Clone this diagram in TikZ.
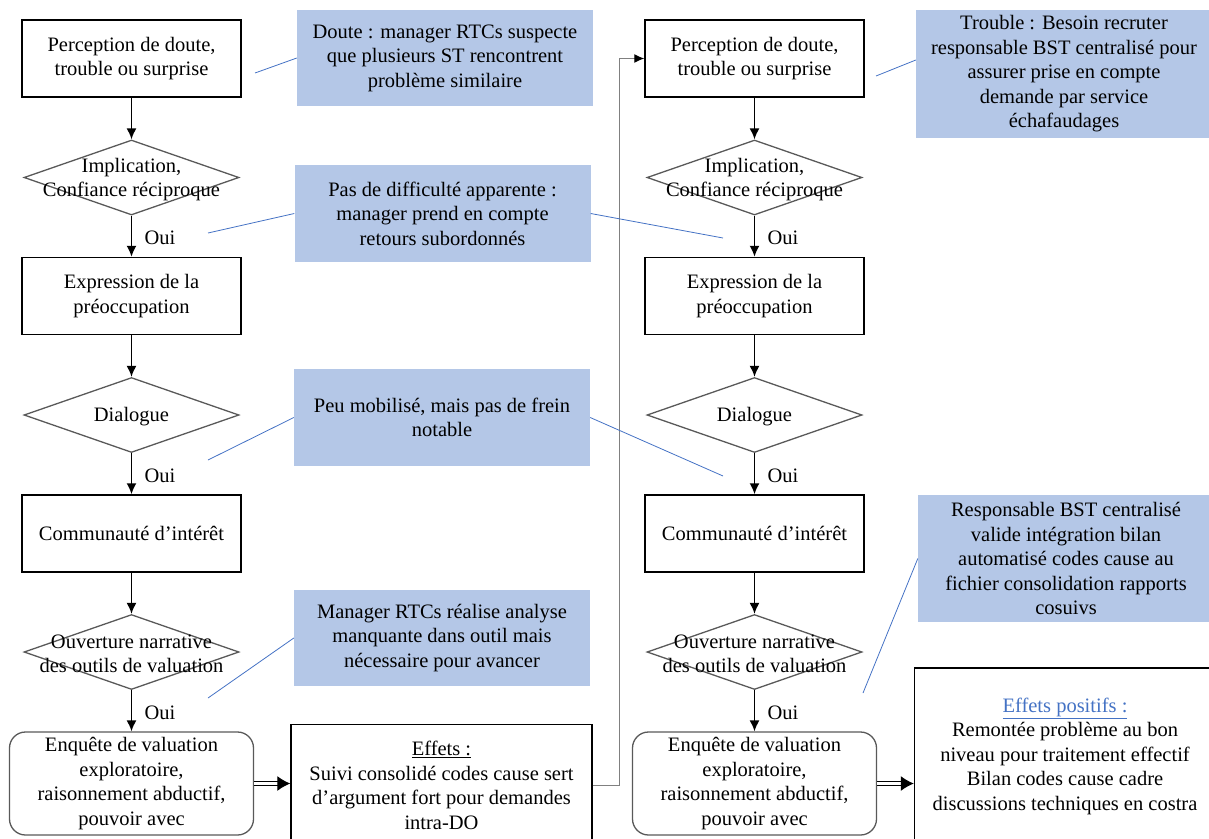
\documentclass[tikz,border=0pt]{standalone}
\usepackage{fontspec}
\setmainfont{Liberation Serif}
\usepackage{xcolor}
\usetikzlibrary{shapes.geometric,arrows.meta,positioning,calc}

\definecolor{notefond}{HTML}{B4C7E7}
\definecolor{notetrait}{HTML}{4472C4}
\definecolor{titrebleu}{HTML}{4472C4}
\definecolor{contour}{HTML}{595959}

\tikzset{
    etape/.style={draw, line width=1.5pt, minimum width=219pt, minimum height=77pt, align=center, inner sep=0pt},
    decision/.style={diamond, draw=contour, line width=1.3pt, minimum width=215pt, minimum height=75pt, inner sep=0pt},
    enquete/.style={draw=contour, line width=1.3pt, rounded corners=16pt, minimum width=244pt, minimum height=103pt, align=center, inner sep=0pt},
    effet/.style={draw, line width=1.5pt, minimum width=301pt, align=center, inner sep=0pt},
    note/.style={fill=notefond, minimum width=296pt, align=center, inner sep=0pt},
    fleche/.style={-{Latex[length=11pt,width=10pt]}, line width=1.6pt},
    doublefleche/.style={double, double distance=2.5pt, line width=1pt, -{Latex[length=13pt,width=15pt]}},
    renvoi/.style={draw=gray, line width=1.2pt, -{Latex[length=10pt,width=9pt,color=black]}},
    lien/.style={draw=notetrait, line width=0.8pt},
    texte/.style={align=center, yshift=-2pt},
}

\begin{document}
\begin{tikzpicture}[x=1pt, y=-1pt, font=\fontsize{20.5}{24.5}\selectfont]
    \useasboundingbox (0,0) rectangle (1209,838);

    % the two columns share the same steps
    \foreach \c/\x in {g/131.5, d/754.5} {
        \node[etape] (\c1) at (\x, 58.5) {Perception de doute,\\trouble ou surprise};
        \node[decision] (\c2) at (\x, 177.5) {};
        \node[texte] (\c2l) at (\c2) {Implication,\\Confiance réciproque};
        \node[etape] (\c3) at (\x, 296) {Expression de la\\préoccupation};
        \node[decision] (\c4) at (\x, 415) {};
        \node[texte] (\c4l) at (\c4) {Dialogue};
        \node[etape] (\c5) at (\x, 533.5) {Communauté d’intérêt};
        \node[decision] (\c6) at (\x, 652) {};
        \node[texte] (\c6l) at (\c6) {Ouverture narrative\\des outils de valuation};
        \node[enquete] (\c7) at (\x, 783.5) {Enquête de valuation\\exploratoire,\\raisonnement abductif,\\pouvoir avec};

        \draw[fleche] (\c1) -- (\c2);
        \draw[fleche] (\c2) -- node[right, xshift=9pt, yshift=-2pt] {Oui} (\c3);
        \draw[fleche] (\c3) -- (\c4);
        \draw[fleche] (\c4) -- node[right, xshift=9pt, yshift=-2pt] {Oui} (\c5);
        \draw[fleche] (\c5) -- (\c6);
        \draw[fleche] (\c6) -- node[right, xshift=9pt, yshift=-2pt] {Oui} (\c7);
    }

    \node[effet, minimum height=122pt] (geff) at (441.5, 785.5) {\underline{Effets :}\\Suivi consolidé codes cause sert\\d’argument fort pour demandes\\intra-DO};
    \node[effet, minimum height=176pt] (deff) at (1065, 756) {\textcolor{titrebleu}{\underline{Effets positifs :}}\\Remontée problème au bon\\niveau pour traitement effectif\\Bilan codes cause cadre\\discussions techniques en costra};

    \draw[doublefleche] (g7.east) -- (g7.east -| geff.west);
    \draw[doublefleche] (d7.east) -- (d7.east -| deff.west);
    \draw[renvoi] (geff.east) -- ++(27,0) |- (d1.west);

    % notes
    \node[note, minimum height=96pt] (n1) at (445, 58) {Doute : manager RTCs suspecte\\que plusieurs ST rencontrent\\problème similaire};
    \node[note, minimum height=97pt] (n2) at (442.5, 213.5) {Pas de difficulté apparente :\\manager prend en compte\\retours subordonnés};
    \node[note, minimum height=97pt] (n3) at (442, 417.5) {Peu mobilisé, mais pas de frein\\notable};
    \node[note, minimum height=96pt] (n4) at (442, 638) {Manager RTCs réalise analyse\\manquante dans outil mais\\nécessaire pour avancer};
    \node[note, minimum height=128pt] (n5) at (1064, 74) {Trouble : Besoin recruter\\responsable BST centralisé pour\\assurer prise en compte\\demande par service\\échafaudages};
    \node[note, minimum height=127pt] (n6) at (1066, 558.5) {Responsable BST centralisé\\valide intégration bilan\\automatisé codes cause au\\fichier consolidation rapports\\cosuivs};

    \coordinate (p1) at (255, 73);
    \coordinate (p2) at (208, 233);
    \coordinate (p3) at (723, 238);
    \coordinate (p4) at (208, 460);
    \coordinate (p5) at (723, 476);
    \coordinate (p6) at (208, 698);
    \coordinate (p7) at (876, 76);
    \coordinate (p8) at (863, 693);

    \draw[lien] (n1.west) -- (p1);
    \draw[lien] (n2.west) -- (p2);
    \draw[lien] (n2.east) -- (p3);
    \draw[lien] (n3.west) -- (p4);
    \draw[lien] (n3.east) -- (p5);
    \draw[lien] (n4.west) -- (p6);
    \draw[lien] ([yshift=14pt]n5.west) -- (p7);
    \draw[lien] (n6.west) -- (p8);
\end{tikzpicture}
\end{document}
